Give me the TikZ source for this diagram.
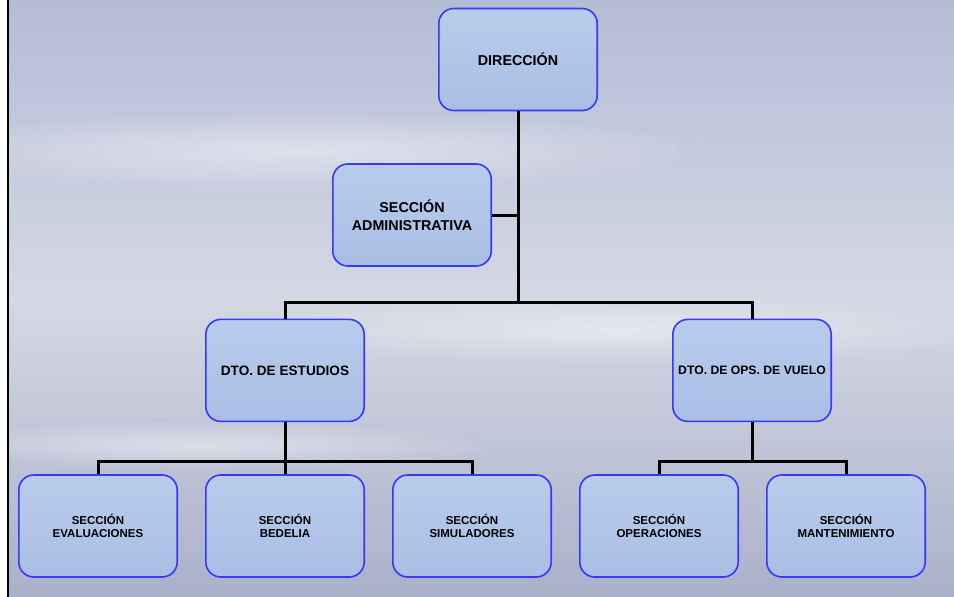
\documentclass[tikz,border=0pt]{standalone}
\usepackage{fontspec}
\setmainfont{Liberation Sans}
\usetikzlibrary{positioning,calc,fadings}
\definecolor{boxblue}{RGB}{56,56,245}
\definecolor{boxtop}{RGB}{184,204,236}
\definecolor{boxbottom}{RGB}{168,190,228}
\definecolor{skytop}{RGB}{180,188,214}
\definecolor{skymid}{RGB}{212,216,228}
\definecolor{skybottom}{RGB}{170,176,202}
\tikzfading[name=softEdge, inner color=transparent!0, outer color=transparent!100]

\begin{document}
\begin{tikzpicture}[
    x=1pt, y=-1pt,
    node distance=52pt and 27pt,
    every node/.style={font=\bfseries},
    unitNode/.style={rectangle, draw=boxblue, line width=1.6pt, top color=boxtop, bottom color=boxbottom, rounded corners=15pt, minimum height=102pt, minimum width=158.4pt, align=center, inner sep=1pt},
    topText/.style={font=\fontsize{14.3}{18}\selectfont\bfseries},
    dtoText/.style={font=\fontsize{13.6}{16}\selectfont\bfseries},
    subText/.style={font=\fontsize{11.5}{13.5}\selectfont\bfseries},
    cloudStreak/.style={fill=white, opacity=0.45, path fading=softEdge},
    linkEdge/.style={draw=black, line width=3pt}
]
    \useasboundingbox (0,0) rectangle (954,597);
    % sky background
    \shade [top color=skytop, bottom color=skybottom, middle color=skymid] (8,0) rectangle (954,597);
    \fill [cloudStreak] (300,150) ellipse (420pt and 40pt);
    \fill [cloudStreak] (620,330) ellipse (400pt and 35pt);
    \fill [cloudStreak] (200,445) ellipse (300pt and 25pt);
    \draw [line width=2.4pt] (8,0) -- (8,597);

    \node [unitNode, topText] (dir) at (518,59.5) {DIRECCIÓN};
    \node [unitNode, topText] (admin) at (412,215) {SECCIÓN\\ADMINISTRATIVA};
    \node [unitNode, subText] (eval) at (98,526) {SECCIÓN\\EVALUACIONES};
    \node [unitNode, subText, right=of eval] (bedelia) {SECCIÓN\\BEDELIA};
    \node [unitNode, subText, right=of bedelia] (simul) {SECCIÓN\\SIMULADORES};
    \node [unitNode, subText, right=of simul] (oper) {SECCIÓN\\OPERACIONES};
    \node [unitNode, subText, right=of oper] (mant) {SECCIÓN\\MANTENIMIENTO};
    \node [unitNode, dtoText, above=of bedelia] (estudios) {DTO. DE ESTUDIOS};
    \node [unitNode, font=\fontsize{12.2}{15}\selectfont\bfseries, right=307pt of estudios] (vuelo) {DTO. DE OPS. DE VUELO};

    \coordinate (hubTop) at (518,302);
    \coordinate (hubLeft) at (285,461);
    \coordinate (hubRight) at (752,461);

    \path [linkEdge] (dir) -- (hubTop);
    \path [linkEdge] (admin.east) -- (admin.east -| hubTop);
    \path [linkEdge] (estudios.north) |- (hubTop) -| (vuelo.north);
    \path [linkEdge] (estudios) -- (bedelia);
    \path [linkEdge] (eval.north) |- (hubLeft) -| (simul.north);
    \path [linkEdge] (vuelo) -- (hubRight);
    \path [linkEdge] (oper.north) |- (hubRight) -| (mant.north);
\end{tikzpicture}
\end{document}
